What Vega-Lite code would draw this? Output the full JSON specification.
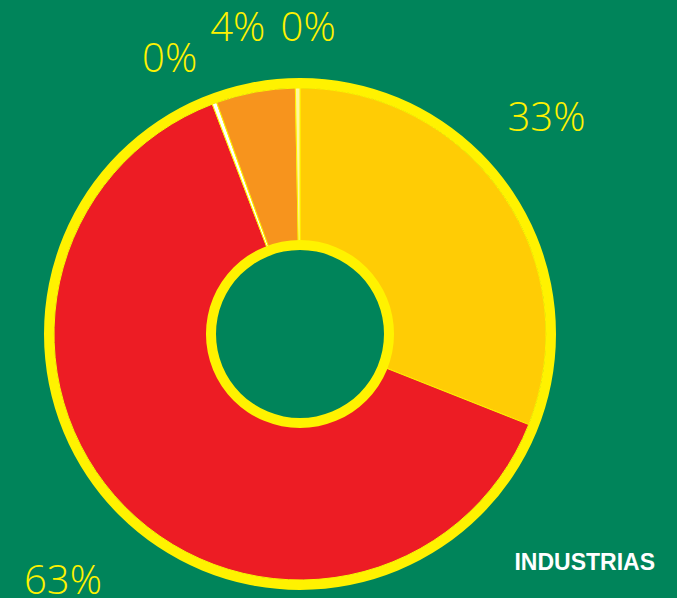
{
  "$schema": "https://vega.github.io/schema/vega-lite/v6.json",
  "width": 600,
  "height": 528,
  "autosize": {"type": "none"},
  "padding": {"left": 0, "top": 70, "right": 77, "bottom": 0},
  "background": "#00845A",
  "config": {
    "view": {"stroke": null},
    "text": {"font": "Open Sans", "fontWeight": 300, "fontSize": 40, "color": "#FFF200", "align": "center", "baseline": "middle"}
  },
  "title": {
    "text": "INDUSTRIAS",
    "orient": "bottom",
    "anchor": "end",
    "frame": "group",
    "offset": -50,
    "dx": 55,
    "font": "Liberation Sans",
    "fontSize": 23,
    "fontWeight": "bold",
    "color": "#FFFFFF"
  },
  "datasets": {
    "slices": [
      {"segment": "A", "order": 1, "pct": 31.0, "label": "33%"},
      {"segment": "B", "order": 2, "pct": 63.2, "label": "63%"},
      {"segment": "C", "order": 3, "pct": 0.3, "label": "0%"},
      {"segment": "D", "order": 4, "pct": 5.2, "label": "4%"},
      {"segment": "E", "order": 5, "pct": 0.3, "label": "0%"}
    ]
  },
  "layer": [
    {
      "data": {"name": "slices"},
      "mark": {"type": "arc", "radius": 246, "radius2": 89, "stroke": "#FFF200", "strokeWidth": 1},
      "encoding": {
        "theta": {"field": "pct", "type": "quantitative", "stack": true},
        "order": {"field": "order", "type": "quantitative"},
        "color": {
          "field": "segment",
          "type": "nominal",
          "scale": {"domain": ["A", "B", "C", "D", "E"], "range": ["#FFCC05", "#ED1C24", "#FFFFFF", "#F7941D", "#FFF7A0"]},
          "legend": null
        }
      }
    },
    {
      "data": {"values": [{"ring": "outer"}]},
      "mark": {"type": "arc", "theta": 0, "theta2": 6.2832, "radius": 256, "radius2": 246, "color": "#FFF200"},
      "encoding": {}
    },
    {
      "data": {"values": [{"ring": "inner"}]},
      "mark": {"type": "arc", "theta": 0, "theta2": 6.2832, "radius": 94, "radius2": 84, "color": "#FFF200"},
      "encoding": {}
    },
    {
      "data": {"name": "slices"},
      "mark": {"type": "text", "radius": 327, "dx": -24, "dy": -31},
      "encoding": {
        "theta": {"field": "pct", "type": "quantitative", "stack": true},
        "order": {"field": "order", "type": "quantitative"},
        "text": {"condition": {"test": "datum.segment == 'A'", "field": "label", "type": "nominal"}, "value": ""}
      }
    },
    {
      "data": {"name": "slices"},
      "mark": {"type": "text", "radius": 350, "dx": 12, "dy": 2},
      "encoding": {
        "theta": {"field": "pct", "type": "quantitative", "stack": true},
        "order": {"field": "order", "type": "quantitative"},
        "text": {"condition": {"test": "datum.segment == 'B'", "field": "label", "type": "nominal"}, "value": ""}
      }
    },
    {
      "data": {"name": "slices"},
      "mark": {"type": "text", "radius": 303, "dx": -25, "dy": 10},
      "encoding": {
        "theta": {"field": "pct", "type": "quantitative", "stack": true},
        "order": {"field": "order", "type": "quantitative"},
        "text": {"condition": {"test": "datum.segment == 'C'", "field": "label", "type": "nominal"}, "value": ""}
      }
    },
    {
      "data": {"name": "slices"},
      "mark": {"type": "text", "radius": 310, "dx": -6, "dy": 0},
      "encoding": {
        "theta": {"field": "pct", "type": "quantitative", "stack": true},
        "order": {"field": "order", "type": "quantitative"},
        "text": {"condition": {"test": "datum.segment == 'D'", "field": "label", "type": "nominal"}, "value": ""}
      }
    },
    {
      "data": {"name": "slices"},
      "mark": {"type": "text", "radius": 305, "dx": 11, "dy": 0},
      "encoding": {
        "theta": {"field": "pct", "type": "quantitative", "stack": true},
        "order": {"field": "order", "type": "quantitative"},
        "text": {"condition": {"test": "datum.segment == 'E'", "field": "label", "type": "nominal"}, "value": ""}
      }
    }
  ]
}
